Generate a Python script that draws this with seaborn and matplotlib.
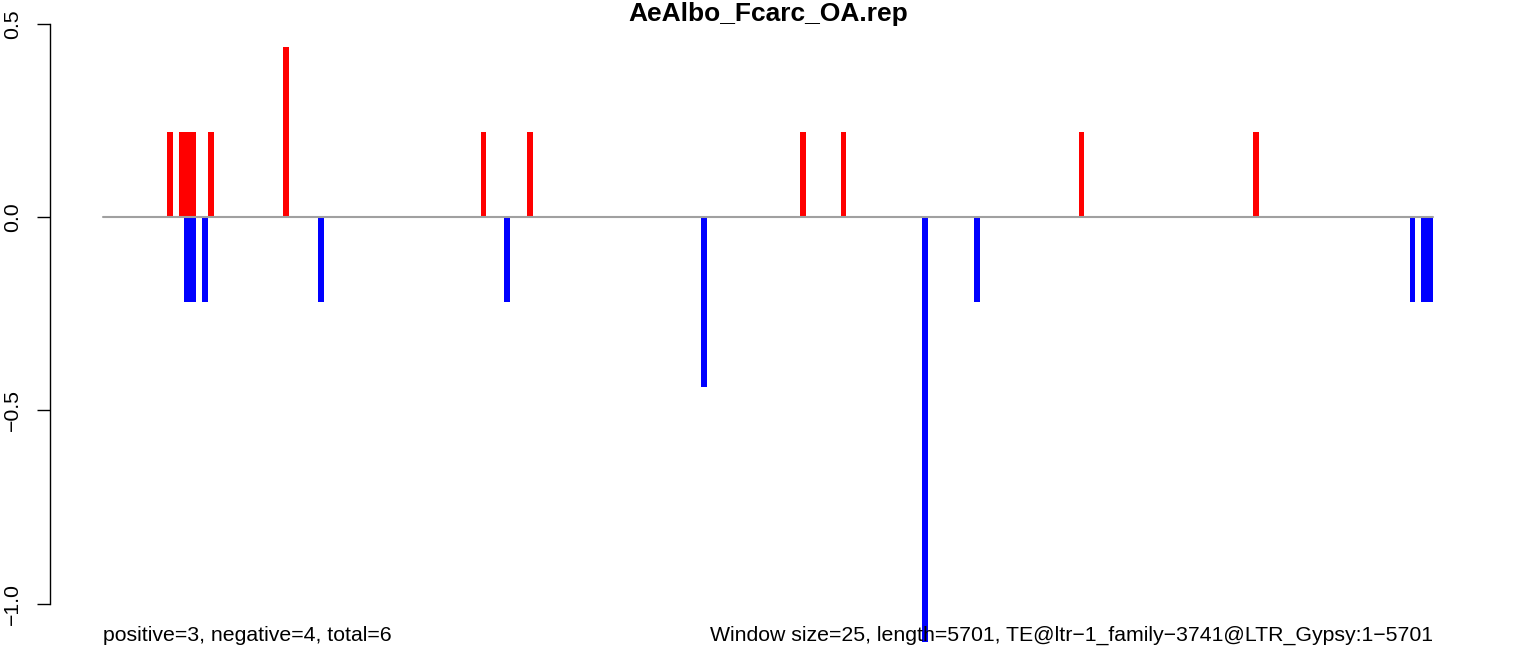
import matplotlib
matplotlib.use('Agg')
import matplotlib.pyplot as plt
import seaborn as sns
import numpy as np
import pandas as pd

# Data: window index (window size = 25 bp) and score
pos_windows = [11, 13, 14, 15, 18, 31, 65, 73, 120, 127, 168, 198]
pos_values = [0.22, 0.22, 0.22, 0.22, 0.22, 0.44, 0.22, 0.22, 0.22, 0.22, 0.22, 0.22]
neg_windows = [14, 15, 17, 37, 69, 103, 141, 150, 225, 227, 228]
neg_values = [-0.22, -0.22, -0.22, -0.22, -0.22, -0.44, -1.1, -0.22, -0.22, -0.22, -0.22]
n_windows = 229
y_ticks = [-1.0, -0.5, 0.0, 0.5]

title = 'AeAlbo_Fcarc_OA.rep'
left_note = 'positive=3, negative=4, total=6'
right_note = 'Window size=25, length=5701, TE@ltr\u22121_family\u22123741@LTR_Gypsy:1\u22125701'

sns.set_style('white')
plt.rcParams['font.family'] = ['Liberation Sans', 'DejaVu Sans']
plt.rcParams['text.color'] = 'black'
plt.rcParams['ytick.color'] = 'black'

pos_df = pd.DataFrame({'x': np.array(pos_windows) + 0.5, 'y': pos_values})
neg_df = pd.DataFrame({'x': np.array(neg_windows) + 0.5, 'y': neg_values})

fig = plt.figure(figsize=(15.36, 6.66), dpi=100)
ax = fig.add_axes([50 / 1536, 0, 1436 / 1536, (666 - 23.4) / 666])

sns.barplot(data=pos_df, x='x', y='y', native_scale=True, width=1, color='#ff0000',
            saturation=1, linewidth=0, errorbar=None, ax=ax)
sns.barplot(data=neg_df, x='x', y='y', native_scale=True, width=1, color='#0000ff',
            saturation=1, linewidth=0, errorbar=None, ax=ax)

# baseline
ax.plot([0, n_windows], [0, 0], color='#a0a0a0', linewidth=1.5, zorder=5)

# R-style limits (4% extension)
ax.set_xlim(-0.04 * n_windows, 1.04 * n_windows)
ax.set_ylim(-1.1616, 0.5016)

ax.set_xticks([])
ax.set_yticks(y_ticks)
ax.set_yticklabels(['\u22121.0', '\u22120.5', '0.0', '0.5'], rotation=90, va='center',
                   fontsize=15.3, color='black')
ax.tick_params(axis='y', left=True, length=9.4, width=1, pad=11, direction='out', color='black')
ax.set_xlabel('')
ax.set_ylabel('')

for s in ['top', 'right', 'bottom']:
    ax.spines[s].set_visible(False)
ax.spines['left'].set_bounds(-1.0, 0.5)
ax.spines['left'].set_color('black')
ax.spines['left'].set_linewidth(1)

fig.text(0.5, 1 - 14 / 666, title, ha='center', va='center', fontsize=19,
         fontweight='bold', color='black')
ax.text(0, -1.083, left_note, ha='left', va='center', fontsize=15.3, color='black')
ax.text(n_windows, -1.083, right_note, ha='right', va='center', fontsize=15.3, color='black')

fig.savefig('out.png', dpi=100)
